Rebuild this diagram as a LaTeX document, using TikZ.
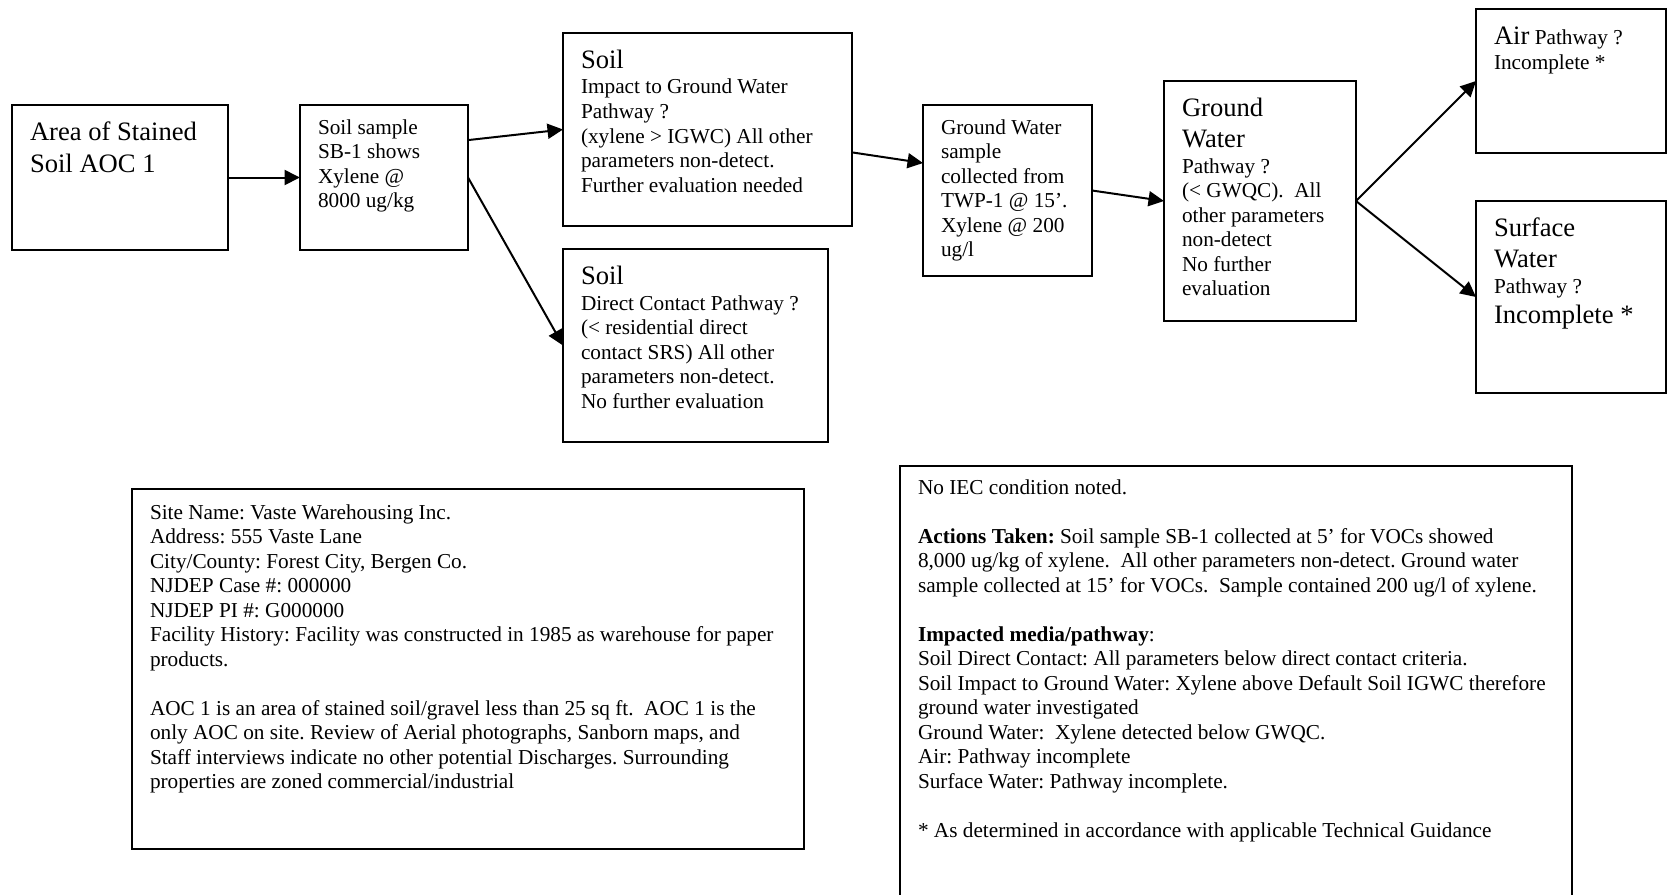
\documentclass[tikz,border=0pt]{standalone}
\usepackage{fontspec}
\setmainfont{Liberation Serif}
\usetikzlibrary{arrows.meta}
\newcommand{\bigfont}{\fontsize{13.3pt}{15pt}\selectfont}
\frenchspacing
\tikzset{
  box/.style={draw, line width=1pt, anchor=north west, align=flush left, inner xsep=9pt, inner ysep=0pt, outer sep=0pt,
    font=\fontsize{10.63pt}{12.25pt}\selectfont, execute at begin node={\lineskiplimit=-50pt}},
  conn/.style={line width=1pt, -{Triangle[length=7.75pt,width=7.5pt]}}
}

\begin{document}
\begin{tikzpicture}[x=0.5pt,y=-0.5pt]
  \useasboundingbox (0,0) rectangle (1668,894);
  % flow boxes
  \node[box, text width=90pt, text height=17.5pt, text depth=55pt] (aoc) at (12,105)
    {{\bigfont Area of Stained}\\[4pt]{\bigfont Soil AOC 1}};
  \node[box, text width=66pt, text height=14.5pt, text depth=58pt] (sample) at (300,105)
    {Soil sample\\SB-1 shows\\Xylene @\\8000 ug/kg};
  \node[box, text width=126.5pt, text height=17.5pt, text depth=79pt] (igw) at (563,33)
    {{\bigfont Soil}\\[0.75pt]Impact to Ground Water\\Pathway ?\\(xylene > IGWC) All other\\parameters non-detect.\\Further evaluation needed};
  \node[box, text width=114.5pt, text height=17.5pt, text depth=79pt] (contact) at (563,249)
    {{\bigfont Soil}\\[0.75pt]Direct Contact Pathway ?\\(< residential direct\\contact SRS) All other\\parameters non-detect.\\No further evaluation};
  \node[box, text width=66.5pt, text height=14.5pt, text depth=71pt] (gwsample) at (923,105)
    {Ground Water\\sample\\collected from\\TWP-1 @ 15’.\\Xylene @ 200\\ug/l};
  \node[box, text width=78pt, text height=17.5pt, text depth=102.5pt] (gw) at (1164,81)
    {{\bigfont Ground}\\[3.25pt]{\bigfont Water}\\[0.75pt]Pathway ?\\(< GWQC).\ \ All\\other parameters\\non-detect\\No further\\evaluation};
  \node[box, text width=77pt, text height=17.5pt, text depth=54.5pt] (air) at (1476,9)
    {{\bigfont Air} Pathway ?\\[0.75pt]Incomplete *};
  \node[box, text width=77pt, text height=17.5pt, text depth=78.5pt] (surface) at (1476,201)
    {{\bigfont Surface}\\[3.25pt]{\bigfont Water}\\[0.75pt]Pathway ?\\[2.75pt]{\bigfont Incomplete *}};

  % text boxes
  \node[box, text width=318pt, text height=15pt, text depth=165pt] (site) at (132,489)
    {Site Name: Vaste Warehousing Inc.\\
     Address: 555 Vaste Lane\\
     City/County: Forest City, Bergen Co.\\
     NJDEP Case \#: 000000\\
     NJDEP PI \#: G000000\\
     Facility History: Facility was constructed in 1985 as warehouse for paper\\
     products.\\[12.25pt]
     AOC 1 is an area of stained soil/gravel less than 25 sq ft.\ \ AOC 1 is the\\
     only AOC on site. Review of Aerial photographs, Sanborn maps, and\\
     Staff interviews indicate no other potential Discharges. Surrounding\\
     properties are zoned commercial/industrial};
  \node[box, text width=318pt, text height=14pt, text depth=203pt] (summary) at (900,466)
    {No IEC condition noted.\\[12.25pt]
     \textbf{Actions Taken:} Soil sample SB-1 collected at 5’ for VOCs showed\\
     8,000 ug/kg of xylene.\ \ All other parameters non-detect. Ground water\\
     sample collected at 15’ for VOCs.\ \ Sample contained 200 ug/l of xylene.\\[12.25pt]
     \textbf{Impacted media/pathway}:\\
     Soil Direct Contact: All parameters below direct contact criteria.\\
     Soil Impact to Ground Water: Xylene above Default Soil IGWC therefore\\
     ground water investigated\\
     Ground Water:\ \ Xylene detected below GWQC.\\
     Air: Pathway incomplete\\
     Surface Water: Pathway incomplete.\\[12.25pt]
     * As determined in accordance with applicable Technical Guidance};

  % connectors
  \draw[conn] (aoc.east) -- (sample.west);
  \draw[conn] (sample.24) -- (igw.west);
  \draw[conn] (sample.east) -- (contact.west);
  \draw[conn] (igw.-9) -- (gwsample.162);
  \draw[conn] (gwsample.east) -- (gw.west);
  \draw[conn] (gw.east) -- (air.west);
  \draw[conn] (gw.east) -- (surface.west);
\end{tikzpicture}
\end{document}
